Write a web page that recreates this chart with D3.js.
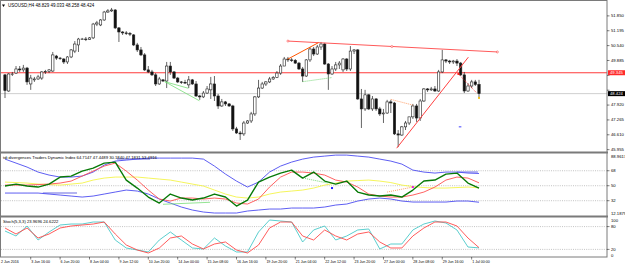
<!DOCTYPE html>
<html>
<head>
<meta charset="utf-8">
<script src="https://cdn.jsdelivr.net/npm/d3@7"></script>
<style>
body { margin: 0; background: #fff; }
svg { display: block; }
text { font-family: "Liberation Sans", Arial, sans-serif; font-size: 4.2px; fill: #000; }
text.date { font-size: 3.6px; }
text.title { font-size: 4.5px; }
</style>
</head>
<body>
<svg id="chart" width="625" height="268"></svg>
<script>
//
// Data (USOUSD H4)
//

var opens = [49.25,48.54,49.27,49.33,49.51,49.47,49.55,48.85,49.03,49.07,
  49.11,49.38,49.40,49.42,50.08,49.99,49.95,49.82,50.04,50.30,
  50.57,50.83,50.83,50.81,50.88,51.49,51.45,51.67,52.02,52.07,
  52.11,51.32,51.14,51.10,51.07,51.01,50.57,50.35,50.13,49.47,
  49.38,49.25,48.85,49.03,48.98,49.64,49.38,49.11,48.94,48.92,
  48.81,49.03,48.85,48.32,48.28,48.45,48.59,48.85,48.32,47.88,
  48.06,47.97,47.88,46.87,46.69,46.65,47.13,47.22,47.53,48.28,
  48.67,48.85,48.94,49.07,49.14,49.33,49.64,49.95,49.91,49.89,
  49.77,49.51,49.20,49.91,50.39,50.17,50.48,50.61,49.73,49.29,
  49.51,49.69,49.47,49.95,49.51,50.30,50.35,48.19,47.75,48.37,
  47.75,48.19,47.75,47.53,47.57,48.06,48.01,46.65,46.60,46.96,
  47.13,47.40,47.88,47.35,48.10,48.63,48.59,48.63,48.54,49.38,
  49.91,49.86,49.82,49.86,49.77,49.25,48.54,48.76,48.94,48.829]
var highs = [49.29,49.33,49.38,49.64,49.64,49.69,49.60,49.25,49.16,49.25,
  49.42,49.47,49.51,50.26,50.13,50.04,49.99,50.08,50.39,50.74,
  50.88,50.88,50.92,50.92,51.54,51.63,51.71,52.07,52.15,52.20,
  52.15,51.36,51.18,51.18,51.14,51.05,50.66,50.48,50.21,49.64,
  49.47,49.33,49.16,49.07,49.82,49.82,49.42,49.16,48.98,49.03,
  49.20,49.07,48.98,48.37,48.54,48.76,49.16,49.20,48.41,48.19,
  48.10,48.01,47.93,46.96,46.78,47.22,47.26,47.62,48.32,49.03,
  48.94,48.98,49.16,49.20,49.42,49.73,50.04,50.04,49.99,49.95,
  49.82,49.60,49.95,50.48,50.48,50.57,50.70,50.66,49.77,49.64,
  49.82,49.86,49.99,49.99,50.52,50.39,50.39,48.63,48.59,48.41,
  48.32,48.23,47.84,47.75,48.15,48.15,48.06,46.82,47.00,47.22,
  47.40,47.97,47.97,48.19,48.67,48.67,48.72,48.76,49.47,50.35,
  49.95,49.91,49.91,49.95,49.82,49.38,48.89,49.03,49.03,49.033]
var lows = [48.23,48.50,49.20,49.29,49.38,49.38,48.81,48.59,48.94,49.03,
  49.03,49.29,49.33,49.38,49.91,49.91,49.73,49.73,49.99,50.21,
  50.26,50.79,50.74,50.79,50.83,51.40,51.40,51.63,51.98,52.02,
  51.27,50.70,51.01,51.01,50.96,50.52,50.26,50.08,49.42,49.33,
  49.20,48.76,48.81,48.94,48.67,49.25,49.07,48.89,48.85,48.85,
  48.67,48.81,48.28,48.15,48.23,48.41,48.19,48.10,47.75,47.84,
  47.88,47.84,46.78,46.65,46.38,46.56,47.09,47.13,47.44,48.23,
  48.63,48.76,48.89,49.03,49.11,49.25,49.64,49.82,49.82,49.73,
  49.47,48.94,49.16,49.82,50.08,50.13,50.35,49.69,48.59,49.25,
  49.42,49.51,49.38,49.42,49.42,50.17,48.15,46.91,47.66,47.70,
  47.66,47.66,47.44,47.13,47.53,47.57,46.60,46.07,46.56,46.82,
  47.04,47.31,47.18,47.22,48.06,48.50,48.54,48.50,48.50,49.33,
  49.77,49.73,49.73,49.64,49.20,48.45,48.50,48.67,48.76,48.258]
var closes = [48.56,49.29,49.29,49.51,49.47,49.55,48.94,49.11,49.07,49.16,
  49.38,49.40,49.47,50.13,49.99,49.97,49.82,50.04,50.35,50.61,
  50.83,50.83,50.81,50.88,51.49,51.54,51.67,52.02,52.07,52.11,
  51.32,51.14,51.10,51.07,51.05,50.57,50.35,50.13,49.47,49.38,
  49.25,48.85,49.07,48.98,49.64,49.38,49.11,48.94,48.92,48.89,
  49.03,48.85,48.32,48.28,48.45,48.63,48.85,48.32,47.88,48.06,
  47.97,47.88,46.87,46.69,46.65,47.13,47.22,47.53,48.28,48.67,
  48.85,48.94,49.07,49.14,49.33,49.64,49.95,49.91,49.89,49.77,
  49.51,49.20,49.91,50.39,50.17,50.48,50.61,49.73,49.29,49.51,
  49.69,49.77,49.95,49.51,50.30,50.35,48.19,47.75,48.37,47.75,
  48.19,47.75,47.53,47.57,48.06,48.01,46.65,46.60,46.96,47.13,
  47.40,47.88,47.35,48.10,48.63,48.59,48.63,48.54,49.38,49.91,
  49.86,49.82,49.86,49.77,49.25,48.54,48.76,48.94,48.829,48.424]

// main panel levels and drawn objects
var priceTicks = [45.955, 46.610, 47.265, 47.920, 48.575, 49.230, 49.885, 50.540, 51.195, 51.850]
var hLevel = 49.345
var lastPrice = 48.424
var resistLine = [[77, 50.74], [134, 50.26]]
var resistDots = [[77, 50.74], [105.3, 50.50], [134, 50.26]]
var supportLine = [[106.6, 46.02], [126.1, 50.03]]
var priceDivUp = [[76.9, 49.94], [85.3, 50.67]]
var priceDivDot = [[81, 48.95], [88.9, 49.13]]
var priceDivLow1 = [[43.5, 48.95], [49.9, 48.66]]
var priceDivLow2 = [[43.5, 48.95], [52.9, 48.11]]
var priceDivOrange = [[105, 48.17], [111, 47.92]]
var priceDivRed = [[123.4, 49.29], [128.4, 48.45]]

// TDI, sampled every third bar
var tdiBars = d3.range(0, 130, 3)
var tdiUpper = [82.0,77.2,72.4,66.4,62.8,60.4,60.4,61.6,66.4,74.8,
  79.6,80.8,82.0,83.2,83.2,83.2,83.2,83.2,82.0,73.6,
  64.0,55.6,48.4,54.4,66.4,73.6,78.4,82.0,84.4,85.6,
  86.8,86.8,85.6,84.4,82.0,79.6,76.0,68.8,66.4,65.2,
  66.4,66.4,65.2,64.71]
var tdiLower = [41.2,41.2,41.2,41.2,40.0,38.8,37.6,36.4,37.6,40.0,
  42.4,44.8,43.6,40.0,34.0,29.2,24.4,20.8,18.4,17.2,
  17.2,17.2,19.6,20.8,22.0,22.0,23.2,23.2,23.2,24.4,
  26.8,28.0,31.6,34.0,35.2,34.0,31.6,30.4,30.4,30.4,
  30.4,31.6,31.6,30.18]
var tdiBase = [54.4,53.8,53.2,52.0,51.4,50.8,52.0,53.2,56.8,59.2,
  60.4,60.4,60.4,59.2,58.0,56.8,54.4,52.0,49.6,44.8,
  40.0,36.4,35.2,36.4,40.0,42.4,43.6,44.8,47.2,50.8,
  53.2,55.6,56.2,56.8,55.6,53.8,50.8,49.0,47.8,47.2,
  47.2,47.8,48.4,47.45]
var tdiRsi = [49.6,52.0,49.6,48.4,52.0,60.4,61.6,67.6,71.2,77.2,
  78.4,56.8,47.2,36.4,29.2,40.0,35.2,32.8,35.2,40.0,
  36.4,25.6,32.8,54.4,60.4,65.2,68.8,59.2,66.4,55.6,
  52.0,55.6,42.4,38.8,37.6,38.8,36.4,44.8,55.6,56.8,
  64.0,65.2,53.2,47.18]
var tdiSignal = [50.8,50.8,50.8,51.4,52.0,53.2,55.6,61.6,67.6,73.6,
  77.2,67.6,56.8,44.8,34.0,31.6,35.2,35.2,34.0,35.2,
  34.0,29.2,28.0,34.0,48.4,60.4,66.4,66.4,65.2,62.8,
  56.8,54.4,48.4,40.0,37.6,36.4,36.4,38.8,42.4,48.4,
  56.8,60.4,59.2,53.49]
var tdiLevels = [32, 50, 68]
var tdiRange = [12.1879, 88.9617]
var tdiDivGreen = [[43, 27.7], [55.8, 30.1]]
var tdiDivDot = [[81.1, 59.2], [87.9, 53.2]]
var tdiDivOrange = [[104, 42.4], [111, 48.4]]
var tdiBandMarks = [[[30.5, 82], [39.5, 82]], [[10.3, 41.2], [19.6, 41.2]], [[123, 66.4], [128.7, 66.4]]]

// Stochastic, same sampling
var stochK = [68.4,55.3,81.6,44.7,65.8,84.2,86.8,86.8,92.1,92.1,
  44.7,23.7,18.4,13.2,44.7,65.8,44.7,23.7,21.1,50.0,
  28.9,13.2,13.2,65.8,97.4,94.7,92.1,39.5,71.1,81.6,
  44.7,55.3,71.1,73.7,21.1,34.2,34.2,71.1,86.8,94.7,
  89.5,71.1,26.3,23.97]
var stochD = [76.3,60.5,76.3,50.0,60.5,76.3,81.6,84.2,86.8,92.1,
  60.5,31.6,18.4,10.5,23.7,50.0,55.3,34.2,21.1,34.2,
  39.5,18.4,10.5,31.6,76.3,92.1,92.1,55.3,44.7,71.1,
  55.3,44.7,60.5,65.8,39.5,23.7,23.7,55.3,76.3,92.1,
  92.1,81.6,50.0,24.62]
var stochLevels = [20, 80]

// time axis
var dateLabels = ['3 Jun 16:00','6 Jun 20:00','8 Jun 04:00','9 Jun 12:00','10 Jun 20:00',
  '14 Jun 00:00','15 Jun 08:00','16 Jun 16:00','19 Jun 20:00','21 Jun 04:00','22 Jun 12:00',
  '23 Jun 20:00','27 Jun 00:00','28 Jun 08:00','29 Jun 16:00','1 Jul 00:00']
var dateBars = d3.range(7, 130, 8)

//
// Layout
//

var plotL = 1, plotR = 607
var mainTop = 1, mainBot = 152
var tdiTop = 153.5, tdiBot = 215.5
var stoTop = 217.5, stoBot = 257

var svg = d3.select('#chart')
var x = d3.scaleLinear().domain([0, 129]).range([5, 479])
var yMain = d3.scaleLinear().domain([45.94, 52.55]).range([150, 0])
var yTdi = d3.scaleLinear().domain(tdiRange).range([217.2, 153.3])
var ySto = d3.scaleLinear().domain([0, 100]).range([257, 219])

function clip(id, y0, y1) {
  svg.append('clipPath').attr('id', id).append('rect')
    .attr('x', plotL).attr('y', y0).attr('width', plotR - plotL).attr('height', y1 - y0)
  return svg.append('g').attr('clip-path', 'url(#' + id + ')')
}

function seg(g, pts, y, color, width, dash) {
  var l = g.append('path')
    .attr('d', d3.line().x(function (d) { return x(d[0]) }).y(function (d) { return y(d[1]) })(pts))
    .attr('fill', 'none').attr('stroke', color).attr('stroke-width', width)
  if (dash) l.attr('stroke-dasharray', dash)
  return l
}

function series(g, vals, y, color, width) {
  g.append('path')
    .datum(vals)
    .attr('d', d3.line().x(function (d, k) { return x(tdiBars[k]) }).y(function (d) { return y(d) }))
    .attr('fill', 'none').attr('stroke', color).attr('stroke-width', width)
    .attr('stroke-linejoin', 'round')
}

//
// Main panel
//

var gMain = clip('clipMain', mainTop, mainBot)

gMain.append('line')
  .attr('x1', plotL).attr('x2', plotR)
  .attr('y1', yMain(lastPrice)).attr('y2', yMain(lastPrice))
  .attr('stroke', '#cfcfcf').attr('stroke-width', 1)

gMain.append('line')
  .attr('x1', plotL).attr('x2', plotR)
  .attr('y1', yMain(hLevel)).attr('y2', yMain(hLevel))
  .attr('stroke', '#ff3b3b').attr('stroke-width', 1.2)

var candles = gMain.selectAll('g.candle')
  .data(opens.map(function (o, i) { return { i: i, o: o, h: highs[i], l: lows[i], c: closes[i] } }))
  .enter().append('g').attr('class', 'candle')

candles.append('line')
  .attr('x1', function (d) { return x(d.i) }).attr('x2', function (d) { return x(d.i) })
  .attr('y1', function (d) { return yMain(d.h) }).attr('y2', function (d) { return yMain(d.l) })
  .attr('stroke', '#222').attr('stroke-width', 0.7)

candles.append('rect')
  .attr('x', function (d) { return x(d.i) - 1.2 })
  .attr('width', 2.4)
  .attr('y', function (d) { return yMain(Math.max(d.o, d.c)) })
  .attr('height', function (d) { return Math.max(0.6, Math.abs(yMain(d.o) - yMain(d.c))) })
  .attr('fill', function (d) { return d.c >= d.o ? '#fff' : '#111' })
  .attr('stroke', '#222').attr('stroke-width', 0.6)

seg(gMain, resistLine, yMain, '#ff5a5a', 1)
gMain.selectAll('circle.rdot').data(resistDots).enter().append('circle')
  .attr('cx', function (d) { return x(d[0]) }).attr('cy', function (d) { return yMain(d[1]) })
  .attr('r', 1).attr('fill', '#fff').attr('stroke', '#ff4040').attr('stroke-width', 0.6)
seg(gMain, supportLine, yMain, '#ff4040', 1)
seg(gMain, priceDivUp, yMain, '#ff5500', 1)
seg(gMain, priceDivDot, yMain, '#55cc55', 0.8, '1,1')
seg(gMain, priceDivLow1, yMain, '#77dd77', 0.8)
seg(gMain, priceDivLow2, yMain, '#77dd77', 0.8)
seg(gMain, priceDivOrange, yMain, '#ff8844', 0.8, '1,1')
seg(gMain, priceDivRed, yMain, '#ff3030', 0.8, '1,1')
gMain.append('rect').attr('x', x(priceDivRed[0][0]) - 1).attr('y', yMain(priceDivRed[0][1]) - 1)
  .attr('width', 2).attr('height', 2).attr('fill', '#ff2020')
gMain.append('rect').attr('x', x(129) - 1).attr('y', yMain(lows[129]) - 0.5)
  .attr('width', 2).attr('height', 2).attr('fill', '#f2c020')
gMain.append('line').attr('x1', x(123.5)).attr('x2', x(124.2))
  .attr('y1', yMain(46.96)).attr('y2', yMain(46.96)).attr('stroke', '#4040ff').attr('stroke-width', 1)

// title
svg.append('path').attr('d', 'M2,4.5 L5,4.5 L3.5,7 Z').attr('fill', '#000')
svg.append('text').attr('class', 'title').attr('x', 8).attr('y', 7.4).text('USOUSD,H4  48.829 49.033 48.258 48.424')

//
// TDI panel
//

var gTdi = clip('clipTdi', tdiTop, tdiBot)
gTdi.selectAll('line.lvl').data(tdiLevels).enter().append('line')
  .attr('x1', plotL).attr('x2', plotR)
  .attr('y1', function (d) { return yTdi(d) }).attr('y2', function (d) { return yTdi(d) })
  .attr('stroke', '#9a9a9a').attr('stroke-width', 0.6).attr('stroke-dasharray', '1,1.2')

tdiBandMarks.forEach(function (m) { seg(gTdi, m, yTdi, '#b4b4f0', 2) })
series(gTdi, tdiUpper, yTdi, '#4c4cf0', 0.9)
series(gTdi, tdiLower, yTdi, '#4c4cf0', 0.9)
series(gTdi, tdiBase, yTdi, '#f4f44a', 0.9)
series(gTdi, tdiSignal, yTdi, '#ff5050', 0.9)
series(gTdi, tdiRsi, yTdi, '#087a08', 1.4)
seg(gTdi, tdiDivGreen, yTdi, '#77dd77', 0.8)
seg(gTdi, tdiDivDot, yTdi, '#55cc55', 0.8, '1,1')
seg(gTdi, tdiDivOrange, yTdi, '#ff8844', 0.8, '1,1')
gTdi.append('rect').attr('x', x(89) - 1).attr('y', yTdi(47.2) - 1).attr('width', 2).attr('height', 2).attr('fill', '#2020ff')
gTdi.append('rect').attr('x', x(111) - 1).attr('y', yTdi(48.4) - 1).attr('width', 2).attr('height', 2).attr('fill', '#e020e0')

svg.append('text').attr('x', 3).attr('y', 158.8)
  .text('tdi divergences Traders Dynamic Index 64.7147 47.4489 30.1840 47.1831 53.4916')

//
// Stochastic panel
//

var gSto = clip('clipSto', stoTop, stoBot)
gSto.selectAll('line.lvl').data(stochLevels).enter().append('line')
  .attr('x1', plotL).attr('x2', plotR)
  .attr('y1', function (d) { return ySto(d) }).attr('y2', function (d) { return ySto(d) })
  .attr('stroke', '#9a9a9a').attr('stroke-width', 0.6).attr('stroke-dasharray', '1,1.2')
series(gSto, stochK, ySto, '#48c8c8', 0.9)
series(gSto, stochD, ySto, '#ff4a4a', 0.9)

svg.append('text').attr('x', 3).attr('y', 222.8).text('Stoch(5,3,3) 23.9696 24.6222')

//
// Frame, separators, axes
//

svg.append('rect').attr('x', 0.5).attr('y', 0.5).attr('width', plotR - 0.5).attr('height', stoBot - 0.5)
  .attr('fill', 'none').attr('stroke', '#7a7a7a').attr('stroke-width', 1)
svg.append('line').attr('x1', 0).attr('x2', plotR + 1).attr('y1', 152.5).attr('y2', 152.5)
  .attr('stroke', '#7a7a7a').attr('stroke-width', 2)
svg.append('line').attr('x1', 0).attr('x2', plotR + 1).attr('y1', 216.5).attr('y2', 216.5)
  .attr('stroke', '#7a7a7a').attr('stroke-width', 2)

function rightLabels(vals, y, fmt, hidden) {
  var g = svg.append('g')
  g.selectAll('line').data(vals).enter().append('line')
    .attr('x1', plotR).attr('x2', plotR + 2.5)
    .attr('y1', function (d) { return y(d) }).attr('y2', function (d) { return y(d) })
    .attr('stroke', '#000').attr('stroke-width', 0.5)
  // labels sitting under a price box are covered by it in MT4, so skip them
  g.selectAll('text').data(vals.filter(function (d) { return !hidden || !hidden(d) })).enter().append('text')
    .attr('x', plotR + 4).attr('y', function (d) { return y(d) + 1.3 })
    .text(fmt)
}

rightLabels(priceTicks, yMain, d3.format('.3f'), function (d) {
  return Math.abs(yMain(d) - yMain(hLevel)) < 4.5 || Math.abs(yMain(d) - yMain(lastPrice)) < 3.5
})
rightLabels(tdiLevels, yTdi, d3.format('d'))
rightLabels(stochLevels, ySto, d3.format('d'))
svg.append('text').attr('x', plotR + 4).attr('y', 158).text('88.9617')
svg.append('text').attr('x', plotR + 4).attr('y', 215).text('12.1879')
svg.append('text').attr('x', plotR + 4).attr('y', 222).text('100')
svg.append('text').attr('x', plotR + 4).attr('y', 256.5).text('0')

function priceBox(v, bg) {
  svg.append('rect').attr('x', plotR + 1).attr('y', yMain(v) - 2.5).attr('width', 17).attr('height', 5).attr('fill', bg)
  svg.append('text').attr('x', plotR + 3).attr('y', yMain(v) + 1.5).style('fill', '#fff').text(d3.format('.3f')(v))
}
priceBox(hLevel, '#ff2a2a')
priceBox(lastPrice, '#000')

var gTime = svg.append('g')
gTime.selectAll('line').data(dateBars).enter().append('line')
  .attr('x1', function (d) { return x(d) }).attr('x2', function (d) { return x(d) })
  .attr('y1', stoBot).attr('y2', stoBot + 2.5)
  .attr('stroke', '#000').attr('stroke-width', 0.5)
gTime.selectAll('text').data(dateLabels).enter().append('text')
  .attr('class', 'date')
  .attr('x', function (d, k) { return x(dateBars[k]) + 0.5 }).attr('y', 263.2)
  .text(function (d) { return d })
gTime.append('text').attr('class', 'date').attr('x', 1).attr('y', 263.2).text('2 Jun 2016')
</script>
</body>
</html>
